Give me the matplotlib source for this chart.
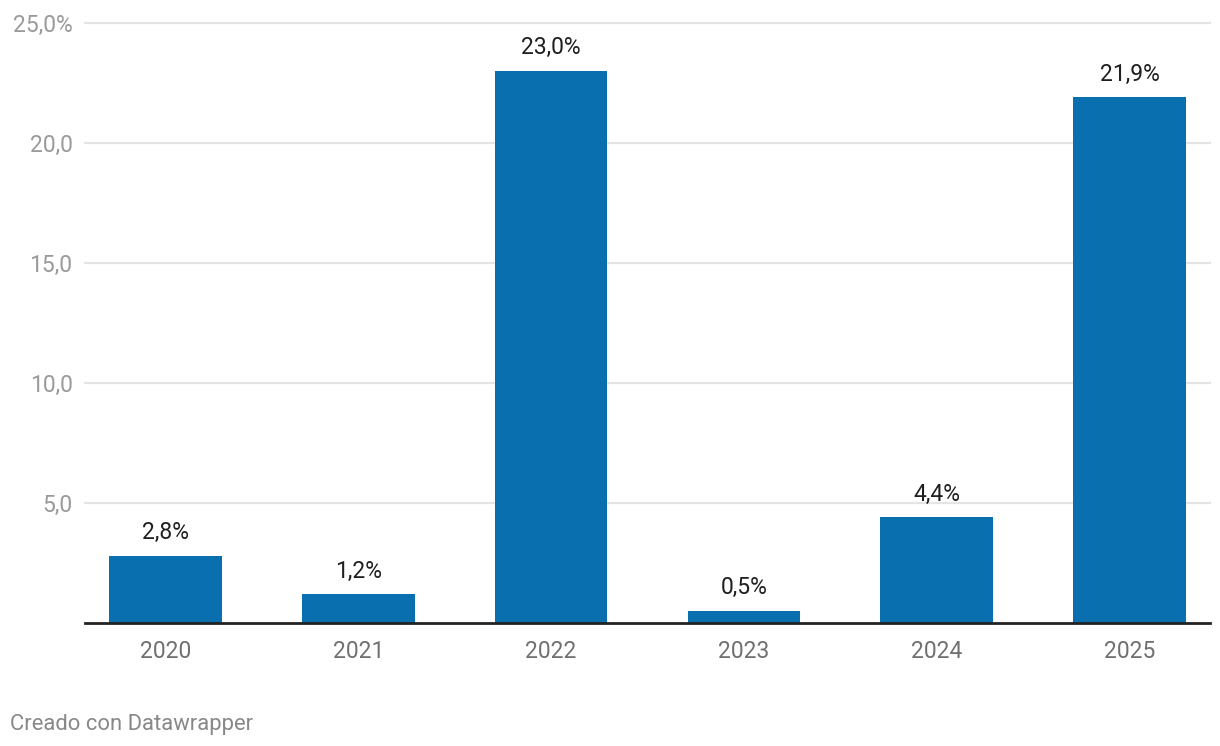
import matplotlib
matplotlib.use("Agg")
import matplotlib.pyplot as plt

years = ["2020", "2021", "2022", "2023", "2024", "2025"]
values = [2.8, 1.2, 23.0, 0.5, 4.4, 21.9]
yticks = [5, 10, 15, 20, 25]
ytick_labels = ["5,0", "10,0", "15,0", "20,0", "25,0%"]
value_labels = ["2,8%", "1,2%", "23,0%", "0,5%", "4,4%", "21,9%"]

plt.rcParams['font.family'] = ['Roboto', 'DejaVu Sans']

W, H = 1220, 746
fig = plt.figure(figsize=(W / 100, H / 100), dpi=100)
ax = fig.add_axes([85 / W, 123 / H, 1125 / W, 600 / H])

x = list(range(len(years)))
ax.bar(x, values, width=0.585, color="#0a6faf", zorder=3)

ax.set_xlim(-0.417, len(years) - 1 + 0.417)
ax.set_ylim(0, 25)

for yt in yticks:
    ax.axhline(yt, color="#e4e4e4", lw=1.6, zorder=1, clip_on=False)
ax.axhline(0, color="#222222", lw=2.0, zorder=4, clip_on=False)

ax.set_yticks(yticks)
ax.set_yticklabels(ytick_labels)
ax.set_xticks(x)
ax.set_xticklabels(years)
ax.tick_params(axis="y", length=0, pad=9, labelsize=16.5, labelcolor="#9a9a9a")
ax.tick_params(axis="x", length=0, pad=12.5, labelsize=16.5, labelcolor="#707070")

for s in ax.spines.values():
    s.set_visible(False)

for xi, v, lab in zip(x, values, value_labels):
    ax.annotate(lab, (xi, v), xytext=(0, 12), textcoords="offset points",
                ha="center", va="baseline", fontsize=16.5, color="#1f1f1f", zorder=5)

fig.text(10 / W, (H - 730) / H, "Creado con Datawrapper", fontsize=15.8,
         color="#888888", ha="left", va="baseline")

fig.savefig("out.png", dpi=100, facecolor="white")
